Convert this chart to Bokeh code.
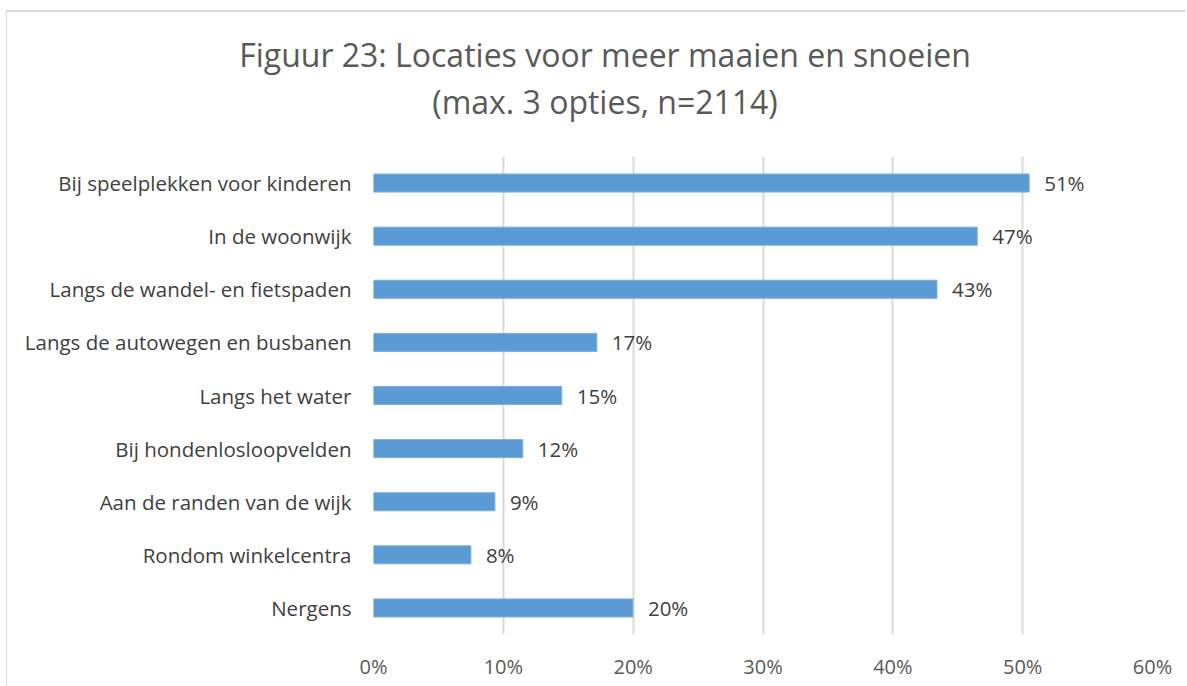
from bokeh.plotting import figure
from bokeh.layouts import column
from bokeh.models import FactorRange, Range1d, FixedTicker, CustomJSTickFormatter
from bokeh.core.properties import value
from bokeh.embed import file_html
from bokeh.resources import INLINE

categories = [
    "Bij speelplekken voor kinderen",
    "In de woonwijk",
    "Langs de wandel- en fietspaden",
    "Langs de autowegen en busbanen",
    "Langs het water",
    "Bij hondenlosloopvelden",
    "Aan de randen van de wijk",
    "Rondom winkelcentra",
    "Nergens",
]
values = [50.5, 46.5, 43.4, 17.2, 14.5, 11.5, 9.35, 7.5, 19.98]
value_labels = ["51%", "47%", "43%", "17%", "15%", "12%", "9%", "8%", "20%"]
x_ticks = [0, 10, 20, 30, 40, 50, 60]
title_lines = ["Figuur 23: Locaties voor meer maaien en snoeien", "(max. 3 opties, n=2114)"]

FONT = "Open Sans"
W = 1178
TITLE_H = 144
PLOT_H = 674 - TITLE_H

# ---- title strip (its own small figure so the title can be centred freely)
t = figure(width=W, height=TITLE_H, x_range=Range1d(0, W), y_range=Range1d(TITLE_H, 0),
           output_backend="svg", toolbar_location=None,
           min_border=0, min_border_left=0, min_border_right=0,
           min_border_top=0, min_border_bottom=0)
if "frame_align" in t.properties():
    t.frame_align = False
t.axis.visible = False
t.grid.visible = False
t.outline_line_color = None
t.background_fill_color = "white"
t.border_fill_color = "white"
t.text(x=[597.5, 597.5], y=[42, 89], text=title_lines,
       text_align="center", text_baseline="alphabetic",
       text_font=value(FONT), text_font_size="32px", text_color="#595959")

# ---- main bar chart
p = figure(
    width=W, height=PLOT_H,
    y_range=FactorRange(*reversed(categories), range_padding=0),
    x_range=Range1d(0, 60),
    output_backend="svg", toolbar_location=None,
    min_border_left=366, min_border_right=33,
    min_border_top=0, min_border_bottom=52,
)
p.outline_line_color = None
p.background_fill_color = "white"
p.border_fill_color = "white"

p.hbar(y=categories, right=values, left=0, height=0.34, color="#5B9BD5", line_color="#7FAEDD", line_width=1)
p.text(x=values, y=categories, text=value_labels, x_offset=15,
       text_baseline="middle", text_align="left",
       text_font=value(FONT), text_font_size="20.5px", text_color="#404040")

p.xaxis.ticker = FixedTicker(ticks=x_ticks)
p.xaxis.formatter = CustomJSTickFormatter(code="return tick + '%';")
p.xaxis.axis_line_color = None
p.xaxis.major_tick_line_color = None
p.xaxis.minor_tick_line_color = None
p.xaxis.major_label_standoff = 12
p.xaxis.major_label_text_font = FONT
p.xaxis.major_label_text_font_size = "20px"
p.xaxis.major_label_text_color = "#595959"

p.yaxis.axis_line_color = None
p.yaxis.major_tick_line_color = None
p.yaxis.minor_tick_line_color = None
p.yaxis.major_label_standoff = 16
p.yaxis.major_label_text_font = FONT
p.yaxis.major_label_text_font_size = "20.5px"
p.yaxis.major_label_text_color = "#404040"

p.xgrid.grid_line_color = "#d9d9d9"
p.xgrid.grid_line_width = 2
p.ygrid.grid_line_color = None

layout = column(t, p, spacing=0,
                styles={"margin-left": "6px", "margin-top": "10px",
                        "border-left": "1px solid #d9d9d9", "border-top": "2px solid #d9d9d9"})

open("out.html", "w").write(file_html(layout, INLINE))
